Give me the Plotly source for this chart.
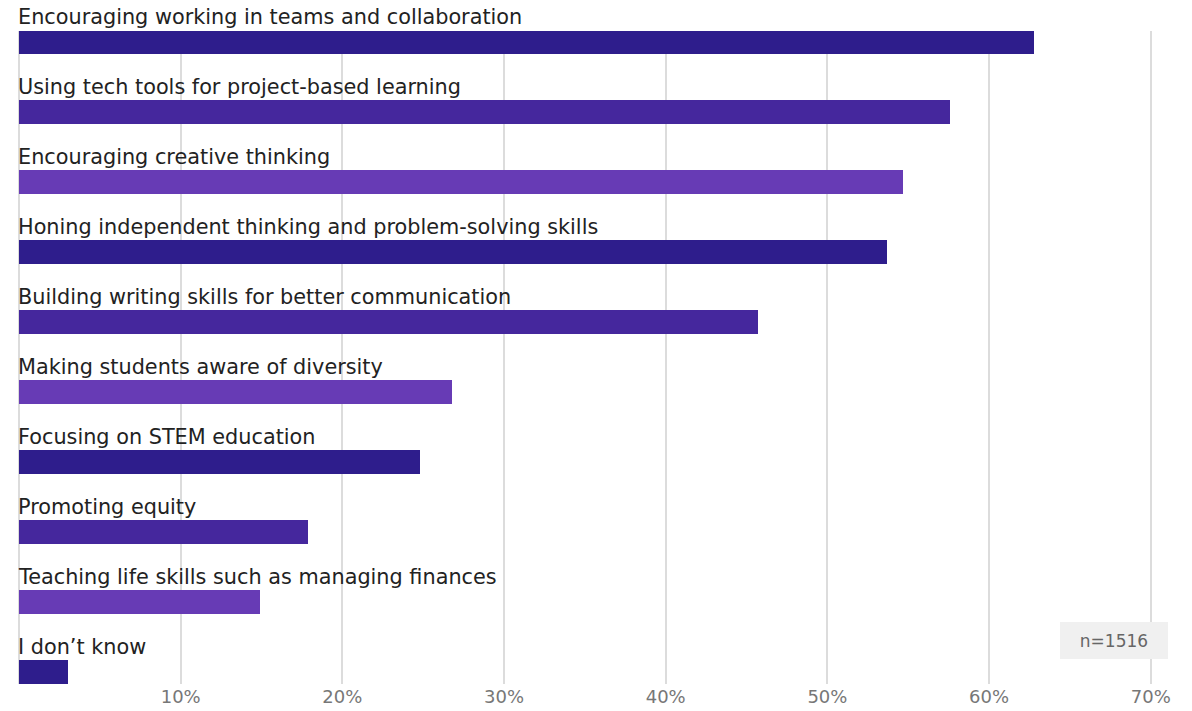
import plotly.graph_objects as go

categories = [
    "Encouraging working in teams and collaboration",
    "Using tech tools for project-based learning",
    "Encouraging creative thinking",
    "Honing independent thinking and problem-solving skills",
    "Building writing skills for better communication",
    "Making students aware of diversity",
    "Focusing on STEM education",
    "Promoting equity",
    "Teaching life skills such as managing finances",
    "I don\u2019t know",
]
values = [62.8, 57.6, 54.7, 53.7, 45.7, 26.8, 24.8, 17.9, 14.9, 3.0]
tick_vals = [10, 20, 30, 40, 50, 60, 70]
tick_text = ["10%", "20%", "30%", "40%", "50%", "60%", "70%"]
palette = ["#2e1d8c", "#45279d", "#673bb5"]
sample_note = "n=1516"

FONT = "DejaVu Sans"
ypos = list(range(len(categories)))
colors = [palette[i % 3] for i in ypos]

fig = go.Figure()
fig.add_trace(go.Bar(
    x=values, y=ypos, orientation="h",
    marker=dict(color=colors, line=dict(width=0)),
    width=0.33, hoverinfo="skip",
))

for i, c in enumerate(categories):
    fig.add_annotation(
        x=0, xref="paper", y=i, yref="y", text=c, showarrow=False,
        xanchor="left", yanchor="middle", xshift=-3, yshift=25,
        font=dict(family=FONT, size=20.8, color="#222222"),
    )

PLOT_W = 1192 - 19 - 38
fig.add_annotation(
    x=(1168 - 19) / PLOT_W, xref="paper", y=(684 - 640.5) / 653, yref="paper",
    text=sample_note, showarrow=False, xanchor="right", yanchor="middle",
    width=104, height=33, bgcolor="#f0f0f0", borderpad=1, borderwidth=1,
    bordercolor="#f0f0f0",
    font=dict(family=FONT, size=17, color="#666666"),
)

fig.update_layout(
    width=1192, height=711,
    margin=dict(l=19, r=38, t=31, b=27),
    paper_bgcolor="white", plot_bgcolor="white",
    showlegend=False, bargap=0,
    xaxis=dict(
        range=[0, 70.2], tickvals=tick_vals, ticktext=tick_text,
        showgrid=True, gridcolor="#dcdcdc", gridwidth=1.5,
        zeroline=True, zerolinecolor="#dcdcdc", zerolinewidth=1.5,
        tickfont=dict(family=FONT, size=18, color="#777777"),
        showline=False, ticks="", fixedrange=True, automargin=False,
    ),
    yaxis=dict(
        range=[9 + 12 / 70, -11 / 70], showticklabels=False,
        showgrid=False, zeroline=False, showline=False, fixedrange=True,
        automargin=False,
    ),
)

fig.write_html("out.html")
